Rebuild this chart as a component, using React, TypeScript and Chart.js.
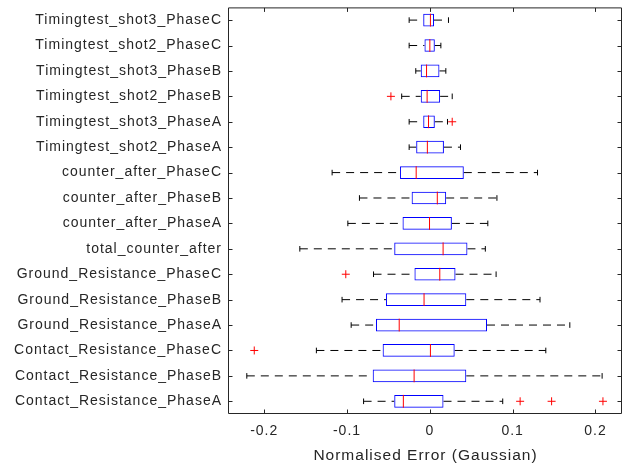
import React, { useEffect, useRef } from 'react';
import { Chart, registerables } from 'chart.js';

Chart.register(...registerables);

const categories = [
  'Timingtest_shot3_PhaseC',
  'Timingtest_shot2_PhaseC',
  'Timingtest_shot3_PhaseB',
  'Timingtest_shot2_PhaseB',
  'Timingtest_shot3_PhaseA',
  'Timingtest_shot2_PhaseA',
  'counter_after_PhaseC',
  'counter_after_PhaseB',
  'counter_after_PhaseA',
  'total_counter_after',
  'Ground_Resistance_PhaseC',
  'Ground_Resistance_PhaseB',
  'Ground_Resistance_PhaseA',
  'Contact_Resistance_PhaseC',
  'Contact_Resistance_PhaseB',
  'Contact_Resistance_PhaseA',
];

const whiskerLow = [-0.025, -0.025, -0.017, -0.034, -0.025, -0.025, -0.118, -0.085, -0.099, -0.157, -0.068, -0.106, -0.095, -0.137, -0.221, -0.080];
const quartile1 = [-0.008, -0.0065, -0.011, -0.011, -0.008, -0.0165, -0.036, -0.022, -0.033, -0.043, -0.0186, -0.053, -0.065, -0.057, -0.069, -0.043];
const medians = [0.0007, 0, -0.004, -0.0033, -0.0016, -0.003, -0.0165, 0.009, -0.0004, 0.016, 0.012, -0.007, -0.037, 0.0007, -0.019, -0.032];
const quartile3 = [0.005, 0.006, 0.0116, 0.0124, 0.006, 0.017, 0.041, 0.0197, 0.0266, 0.0454, 0.031, 0.044, 0.069, 0.030, 0.044, 0.0165];
const whiskerHigh = [0.0225, 0.0133, 0.0193, 0.027, 0.0213, 0.037, 0.130, 0.081, 0.070, 0.067, 0.080, 0.133, 0.169, 0.140, 0.208, 0.088];

const outlierRows = [3, 4, 10, 13, 15, 15, 15];
const outlierValues = [-0.047, 0.027, -0.1015, -0.212, 0.109, 0.147, 0.209];

const xTickValues = [-0.2, -0.1, 0, 0.1, 0.2];
const xMin = -0.2425;
const xMax = 0.232;
const xTitle = 'Normalised Error (Gaussian)';

const AXIS = '#262626';
const FONT = "'Liberation Sans', Arial, Helvetica, sans-serif";

export default function App() {
  const ref = useRef<HTMLCanvasElement>(null);

  useEffect(() => {
    const canvas = ref.current;
    if (!canvas) return;

    const whiskerData: any[] = [];
    const capData: any[] = [];
    categories.forEach((c, i) => {
      whiskerData.push({ x: whiskerLow[i], y: c }, { x: quartile1[i], y: c }, { x: null, y: c });
      whiskerData.push({ x: quartile3[i], y: c }, { x: whiskerHigh[i], y: c }, { x: null, y: c });
      capData.push({ x: whiskerLow[i], y: c }, { x: whiskerHigh[i], y: c });
    });
    const medianData = categories.map((c, i) => ({ x: medians[i], y: c }));
    const outlierData = outlierRows.map((r, i) => ({ x: outlierValues[i], y: categories[r] }));

    const frame = {
      id: 'frame',
      beforeUpdate(chart: any) {
        chart.ctx.letterSpacing = '1px';
      },
      beforeDraw(chart: any) {
        chart.ctx.letterSpacing = '1px';
        const { ctx } = chart;
        ctx.save();
        ctx.fillStyle = '#ffffff';
        ctx.fillRect(0, 0, chart.width, chart.height);
        ctx.restore();
      },
      afterDraw(chart: any) {
        const { ctx, chartArea, scales } = chart;
        const L = chartArea.left - 0.5;
        const R = chartArea.right - 0.5;
        const T = chartArea.top + 0.5;
        const B = chartArea.bottom - 0.5;
        ctx.save();
        ctx.strokeStyle = AXIS;
        ctx.lineWidth = 1;
        ctx.setLineDash([]);
        ctx.beginPath();
        ctx.rect(L, T, R - L, B - T);
        const tl = 4;
        xTickValues.forEach((v) => {
          const px = Math.round(scales.x.getPixelForValue(v)) + 0.5;
          ctx.moveTo(px, B);
          ctx.lineTo(px, B - tl);
          ctx.moveTo(px, T);
          ctx.lineTo(px, T + tl);
        });
        categories.forEach((_, i) => {
          const py = Math.round(scales.y.getPixelForValue(i)) + 0.5;
          ctx.moveTo(L, py);
          ctx.lineTo(L + tl, py);
          ctx.moveTo(R, py);
          ctx.lineTo(R - tl, py);
        });
        ctx.stroke();
        ctx.restore();
      },
    };

    const chart = new Chart(canvas, {
      type: 'bar',
      data: {
        labels: categories,
        datasets: [
          {
            type: 'line',
            indexAxis: 'y',
            data: whiskerData,
            borderColor: '#000000',
            borderWidth: 1,
            borderDash: [8, 6],
            pointRadius: 0,
            spanGaps: false,
            fill: false,
            order: 4,
          } as any,
          {
            type: 'line',
            indexAxis: 'y',
            data: capData,
            showLine: false,
            pointStyle: 'line',
            pointRotation: 90,
            pointRadius: 2.8,
            pointBorderColor: '#000000',
            pointBorderWidth: 1,
            order: 3,
          } as any,
          {
            type: 'bar',
            data: quartile1.map((q, i) => [q, quartile3[i]]),
            backgroundColor: 'rgba(0,0,0,0)',
            borderColor: '#0000ff',
            borderWidth: 1,
            borderSkipped: false,
            barPercentage: 0.5,
            categoryPercentage: 1,
            order: 2,
          } as any,
          {
            type: 'line',
            indexAxis: 'y',
            data: medianData,
            showLine: false,
            pointStyle: 'line',
            pointRotation: 90,
            pointRadius: 6.4,
            pointBorderColor: '#ff0000',
            pointBorderWidth: 1,
            order: 1,
          } as any,
          {
            type: 'line',
            indexAxis: 'y',
            data: outlierData,
            showLine: false,
            pointStyle: 'cross',
            pointRadius: 4,
            pointBorderColor: '#ff0000',
            pointBorderWidth: 1,
            order: 0,
          } as any,
        ],
      },
      options: {
        indexAxis: 'y',
        animation: false,
        responsive: false,
        events: [],
        layout: { padding: { left: 0, top: 4, right: 8, bottom: 0 } },
        plugins: {
          legend: { display: false },
          tooltip: { enabled: false },
        },
        scales: {
          x: {
            type: 'linear',
            position: 'bottom',
            min: xMin,
            max: xMax,
            grid: { display: false, drawTicks: false },
            border: { display: false },
            afterBuildTicks: (s: any) => {
              s.ticks = xTickValues.map((v) => ({ value: v }));
            },
            ticks: {
              color: AXIS,
              font: { family: FONT, size: 14 },
              padding: 9,
              maxRotation: 0,
              autoSkip: false,
              callback: (v: any) => String(v),
            },
            title: {
              display: true,
              text: xTitle,
              color: AXIS,
              font: { family: FONT, size: 15.5 },
              padding: { top: 0, bottom: 2 },
            },
            afterFit: (s: any) => {
              s.height = 53;
              s.paddingLeft = 0;
              s.paddingRight = 0;
            },
          },
          y: {
            type: 'category',
            offset: true,
            grid: { display: false, drawTicks: false },
            border: { display: false },
            ticks: {
              color: AXIS,
              font: { family: FONT, size: 14 },
              padding: 7,
              autoSkip: false,
            },
            afterFit: (s: any) => {
              s.width = 229;
              s.paddingTop = 0;
              s.paddingBottom = 0;
            },
          },
        },
      } as any,
      plugins: [frame],
    });

    return () => chart.destroy();
  }, []);

  return (
    <div style={{ position: 'absolute', left: 0, top: 0, width: 630, height: 467, background: '#ffffff' }}>
      <canvas ref={ref} width={630} height={467} style={{ display: 'block' }} />
    </div>
  );
}
